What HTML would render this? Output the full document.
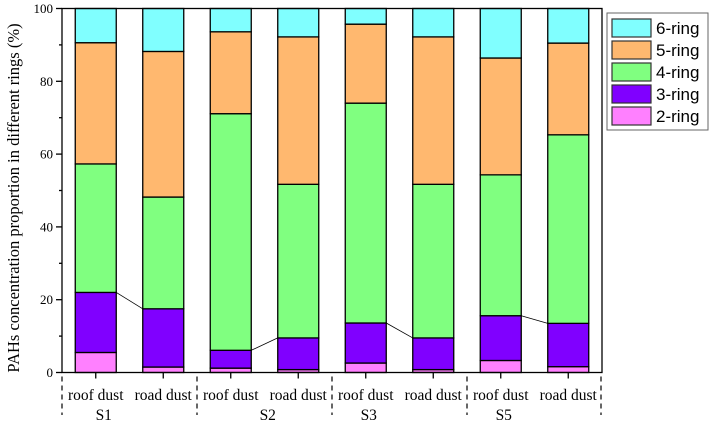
<!DOCTYPE html>
<html><head><meta charset="utf-8"><style>
body{margin:0;background:#fff;}
svg text{font-family:"Liberation Serif",serif;}
</style></head><body>
<svg id="c" width="709" height="425" xmlns="http://www.w3.org/2000/svg"></svg>
<script>
const categories=["roof dust","road dust","roof dust","road dust","roof dust","road dust","roof dust","road dust"];
const groups=["S1","S2","S3","S5"];
const ring2=[5.5,1.5,1.2,0.8,2.6,0.8,3.3,1.6];
const ring3=[16.5,16.0,4.9,8.7,11.0,8.7,12.3,11.9];
const ring4=[35.3,30.7,65.0,42.2,60.4,42.2,38.7,51.8];
const ring5=[33.3,40.0,22.5,40.5,21.7,40.5,32.1,25.2];
const ring6=[9.4,11.8,6.4,7.8,4.3,7.8,13.6,9.5];
const yTicks=[0,20,40,60,80,100];
const series=[["2-ring",ring2,"#ff80ff"],["3-ring",ring3,"#8000ff"],["4-ring",ring4,"#80ff80"],["5-ring",ring5,"#ffb86f"],["6-ring",ring6,"#80ffff"]];
const NS="http://www.w3.org/2000/svg";
const svg=document.getElementById('c');
const X0=62,X1=602,Y0=372.5,Y1=8.5;
const slot=(X1-X0)/categories.length,bw=41;
const y=v=>Y0-(v/100)*(Y0-Y1);
const xc=i=>X0+slot*(i+0.5);
function mk(t,a,p){const e=document.createElementNS(NS,t);for(const k in a)e.setAttribute(k,a[k]);(p||svg).appendChild(e);return e;}
const tops3=[];
for(let i=0;i<categories.length;i++){
  let cum=0;
  series.forEach(s=>{
    const v=s[1][i];
    const r=mk('rect',{x:xc(i)-bw/2,y:y(cum+v),width:bw,height:y(cum)-y(cum+v),fill:s[2],stroke:'#000','stroke-width':1.3});
    
    
    cum+=v;
    if(s[0]==="3-ring")tops3[i]=cum;
  });
}
for(let i=0;i<categories.length;i+=2){
  const l=mk('line',{x1:xc(i)+bw/2,y1:y(tops3[i]),x2:xc(i+1)-bw/2,y2:y(tops3[i+1]),stroke:'#000','stroke-width':0.8});
  
  
}
const f=mk('rect',{x:X0,y:Y1,width:X1-X0,height:Y0-Y1,fill:'none',stroke:'#000','stroke-width':1.3});


yTicks.forEach(t=>{
  mk('line',{x1:X0-6,y1:y(t),x2:X0,y2:y(t),stroke:'#000','stroke-width':1.3});
  const tx=mk('text',{x:X0-9,y:y(t)+4.5,'text-anchor':'end','font-size':13});
  tx.textContent=t;
  
  
});
for(let t=10;t<100;t+=20)mk('line',{x1:X0-3,y1:y(t),x2:X0,y2:y(t),stroke:'#000','stroke-width':1.3});
const yt=mk('text',{transform:'translate(19,198) rotate(-90)','text-anchor':'middle','font-size':16.5});
yt.textContent='PAHs concentration proportion in different rings (%)';


categories.forEach((c,i)=>{
  mk('line',{x1:xc(i),y1:Y0,x2:xc(i),y2:Y0+6,stroke:'#000','stroke-width':1.3});
  const tx=mk('text',{x:xc(i),y:400,'text-anchor':'middle','font-size':15.5});
  tx.textContent=c;
  
  
});
for(let g=0;g<=groups.length;g++){
  const gx=X0+g*slot*2-(g==groups.length?1:0);
  mk('line',{x1:gx,y1:Y0+4,x2:gx,y2:415,stroke:'#000','stroke-width':1.2,'stroke-dasharray':'5,4'});
}
const groupShift=[8,37,3,3];
groups.forEach((g,k)=>{
  const tx=mk('text',{x:xc(2*k)+groupShift[k],y:420,'text-anchor':'middle','font-size':15.5});
  tx.textContent=g;
  
  
});
const lg=mk('g',{});


mk('rect',{x:607,y:13,width:101,height:117,fill:'#fff',stroke:'#666','stroke-width':1},lg);
series.slice().reverse().forEach((s,k)=>{
  const yy=19+k*22;
  const r=mk('rect',{x:612,y:yy,width:39,height:18,fill:s[2],stroke:'#333','stroke-width':1.2},lg);
  
  
  const t=mk('text',{x:656,y:yy+15,'font-size':17,style:'font-family:"Liberation Sans",sans-serif'},lg);
  t.textContent=s[0];
  
  
});
</script>
</body></html>
